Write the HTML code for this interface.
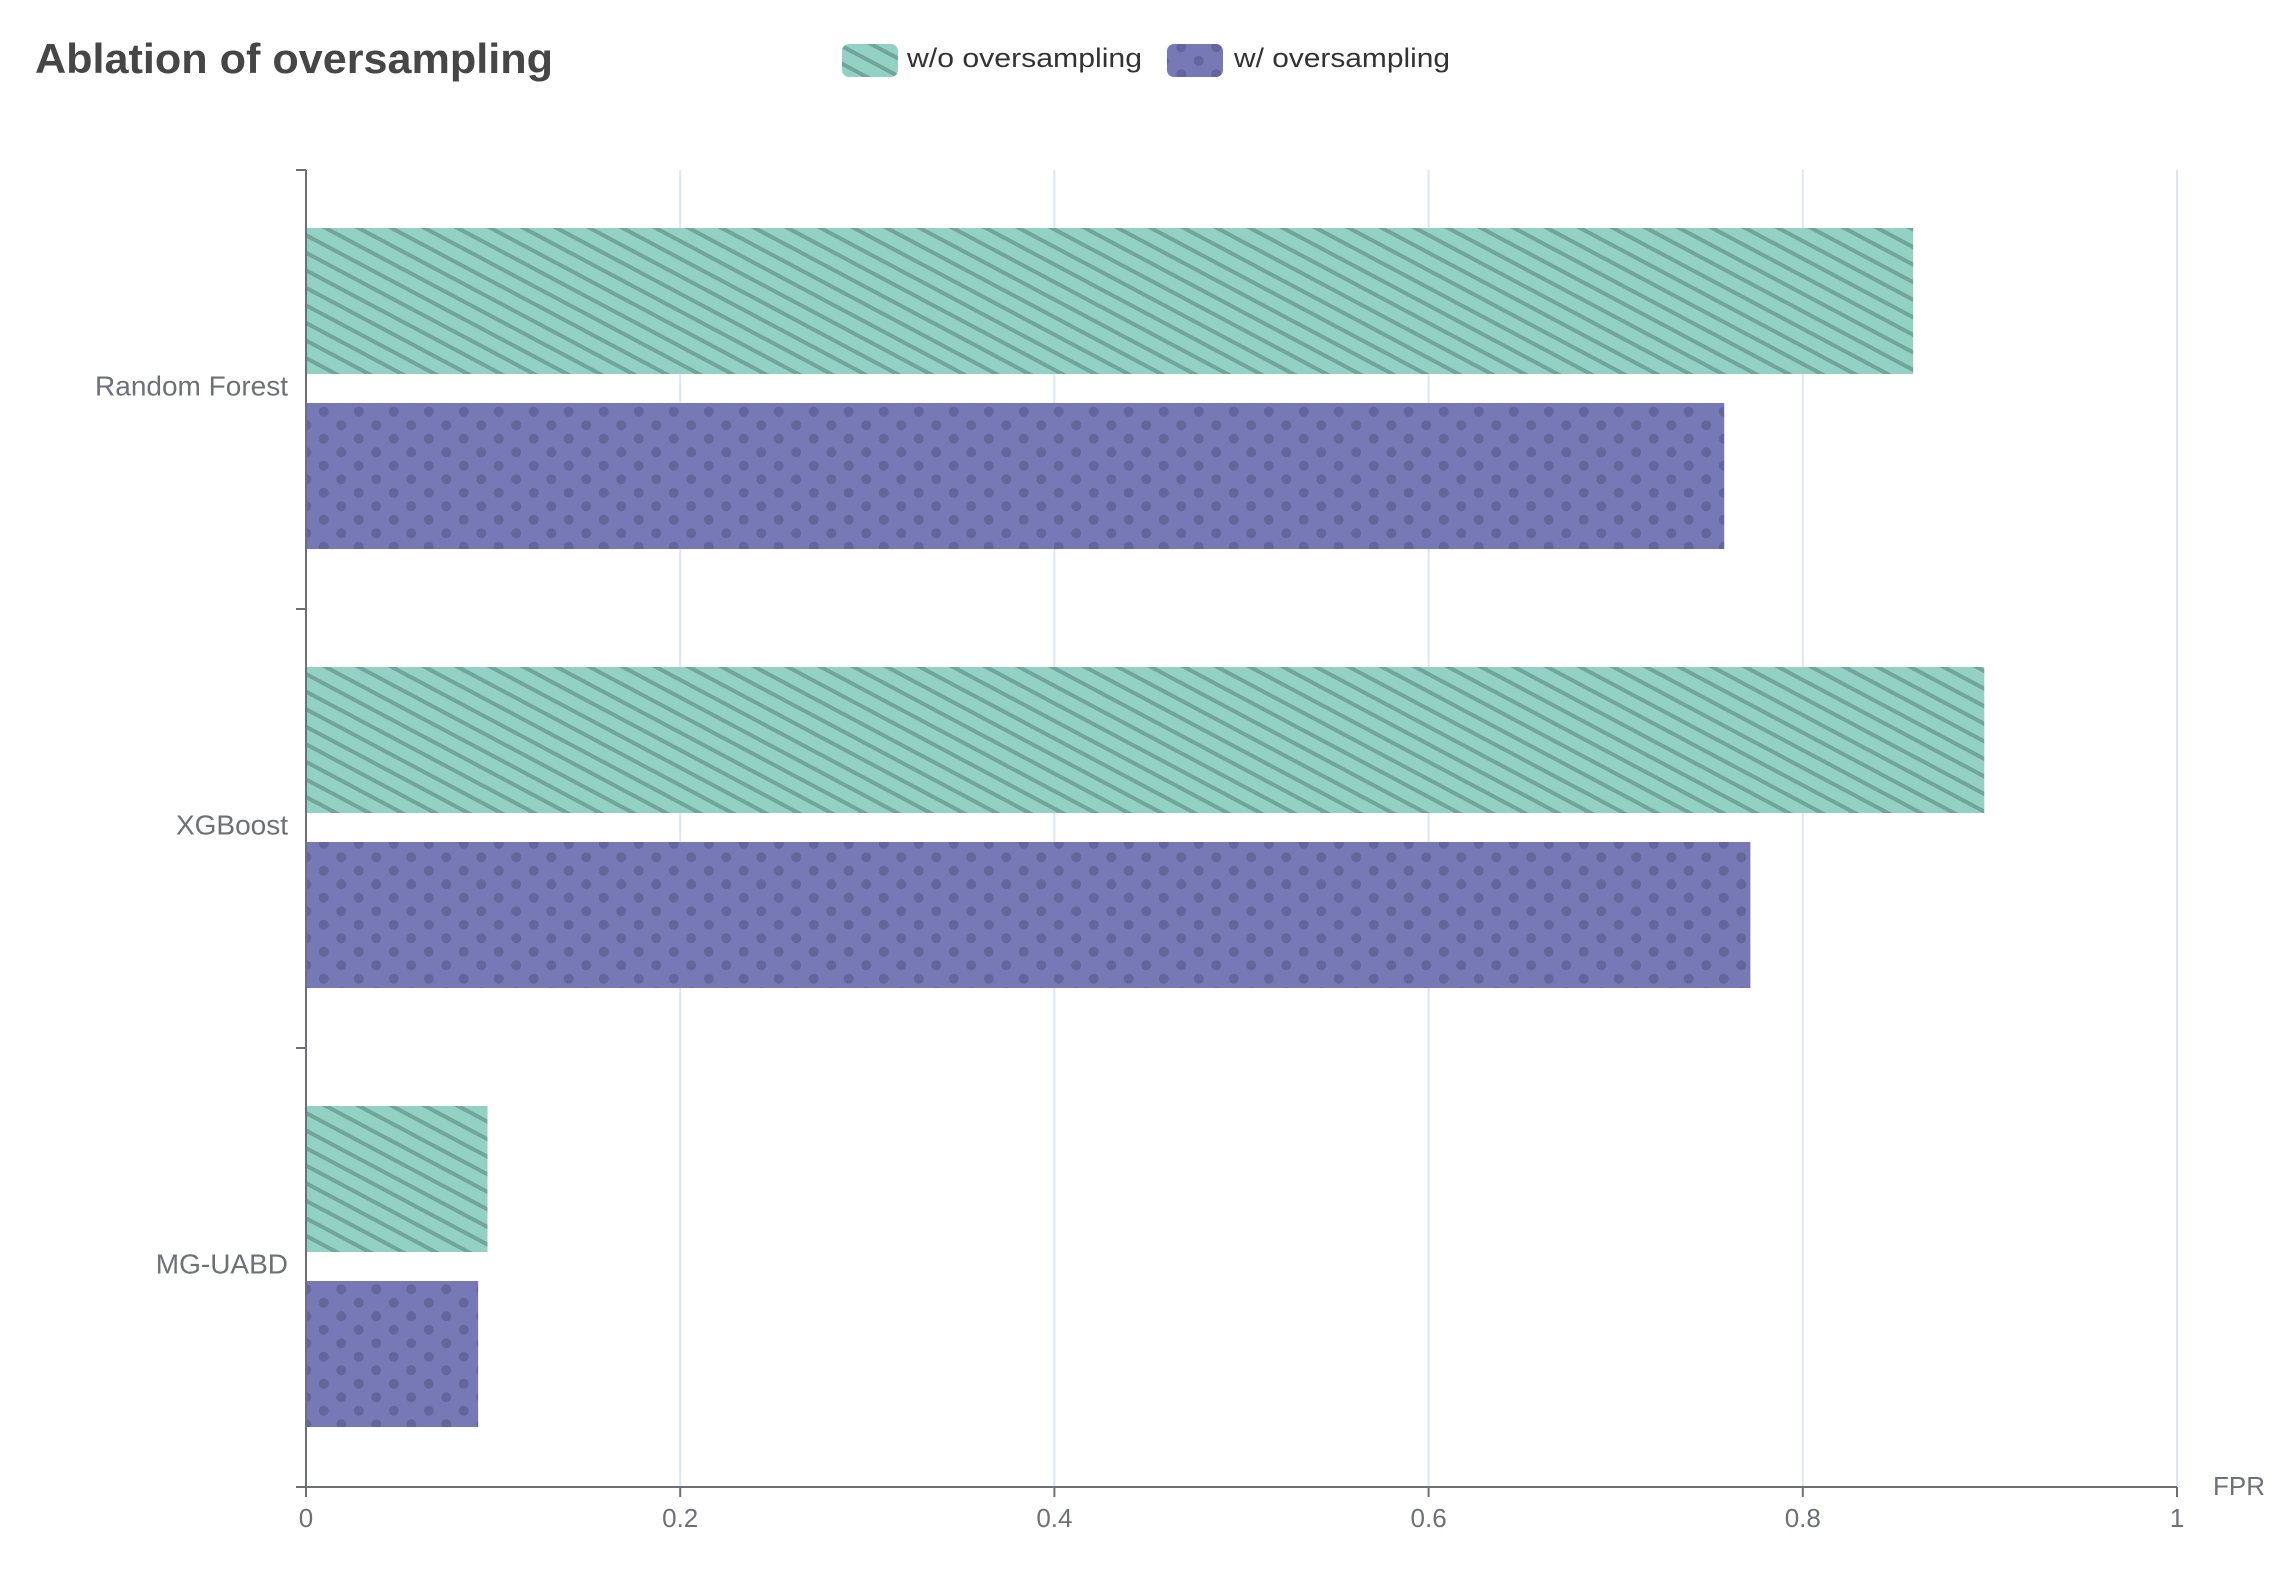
<!DOCTYPE html>
<html><head><meta charset="utf-8"><style>
html,body{margin:0;padding:0;background:#fff;}
svg{display:block;font-family:"Liberation Sans",sans-serif;}
</style></head><body>
<svg id="chart" width="2281" height="1570" viewBox="0 0 2281 1570" xmlns="http://www.w3.org/2000/svg">
<defs>
<pattern id="stripes" patternUnits="userSpaceOnUse" width="40" height="15.5" patternTransform="rotate(28)">
<rect width="40" height="15.5" fill="#93d1c4"/>
<rect y="0" width="40" height="4" fill="#6fa699"/>
</pattern>
<pattern id="dots" patternUnits="userSpaceOnUse" width="35" height="27">
<rect width="35" height="27" fill="#7779b7"/>
<circle cx="8.75" cy="6.75" r="5" fill="#63659c"/>
<circle cx="26.25" cy="20.25" r="5" fill="#63659c"/>
</pattern>
</defs>
<text x="35" y="73" font-size="42" font-weight="bold" fill="#464646" textLength="518" lengthAdjust="spacingAndGlyphs">Ablation of oversampling</text>
<g>
<g>
<rect x="842" y="44" width="56" height="33" rx="7" fill="url(#stripes)"/>
<text x="907" y="67" font-size="27" fill="#333" textLength="235" lengthAdjust="spacingAndGlyphs">w/o oversampling</text>
</g>
<g>
<rect x="1167" y="44" width="56" height="33" rx="7" fill="url(#dots)"/>
<text x="1234" y="67" font-size="27" fill="#333" textLength="216" lengthAdjust="spacingAndGlyphs">w/ oversampling</text>
</g>
</g>
<g id="grid"></g>
<g id="bars"></g>
<g id="axes"></g>
</svg>
<script>
const categories = ["Random Forest", "XGBoost", "MG-UABD"];
const withoutOversampling = [0.859, 0.897, 0.097];
const withOversampling = [0.758, 0.772, 0.092];
const xTicks = [0, 0.2, 0.4, 0.6, 0.8, 1];
const xTickLabels = ["0", "0.2", "0.4", "0.6", "0.8", "1"];

const NS = "http://www.w3.org/2000/svg";
const X0 = 306, X1 = 2177, Y0 = 170, Y1 = 1487;
const xScale = v => X0 + (X1 - X0) * v;
const band = (Y1 - Y0) / categories.length;
const bandTop = i => Y0 + band * i;
function mk(tag, attrs, parent) {
  const e = document.createElementNS(NS, tag);
  for (const k in attrs) e.setAttribute(k, attrs[k]);
  parent.appendChild(e);
  return e;
}
const grid = document.getElementById('grid');
const bars = document.getElementById('bars');
const axes = document.getElementById('axes');

xTicks.forEach((t, i) => {
  if (t > 0) {
    const g = mk('line', {x1: xScale(t), x2: xScale(t), y1: Y0, y2: Y1, stroke: '#e0e6f1', 'stroke-width': 2}, grid);
    
    
  }
  const tk = mk('line', {x1: xScale(t), x2: xScale(t), y1: Y1, y2: Y1 + 10, stroke: '#6e7079', 'stroke-width': 2}, axes);
  
  
  const lb = mk('text', {x: xScale(t), y: 1527, 'font-size': 26, fill: '#6e7079', 'text-anchor': 'middle'}, axes);
  lb.textContent = xTickLabels[i];
  
  
});

const barH = 146, off = 58, gap = 29;
categories.forEach((c, i) => {
  const top = bandTop(i);
  const b1 = mk('rect', {x: X0, y: top + off, width: xScale(withoutOversampling[i]) - X0, height: barH, fill: 'url(#stripes)'}, bars);
  
  
  const b2 = mk('rect', {x: X0, y: top + off + barH + gap, width: xScale(withOversampling[i]) - X0, height: barH, fill: 'url(#dots)'}, bars);
  
  
  const lb = mk('text', {x: 288, y: top + band / 2 + 6, 'font-size': 28, fill: '#6e7079', 'text-anchor': 'end'}, axes);
  lb.textContent = c;
  
  
});
for (let i = 0; i <= categories.length; i++) {
  const tk = mk('line', {x1: X0 - 10, x2: X0, y1: bandTop(i), y2: bandTop(i), stroke: '#6e7079', 'stroke-width': 2}, axes);
  
  
}
const ya = mk('line', {x1: X0, x2: X0, y1: Y0, y2: Y1, stroke: '#6e7079', 'stroke-width': 2}, axes);


const xa = mk('line', {x1: X0, x2: X1, y1: Y1, y2: Y1, stroke: '#6e7079', 'stroke-width': 2}, axes);


const xt = mk('text', {x: 2213, y: 1495, 'font-size': 26, fill: '#6e7079'}, axes);
xt.textContent = 'FPR';


</script>
</body></html>
